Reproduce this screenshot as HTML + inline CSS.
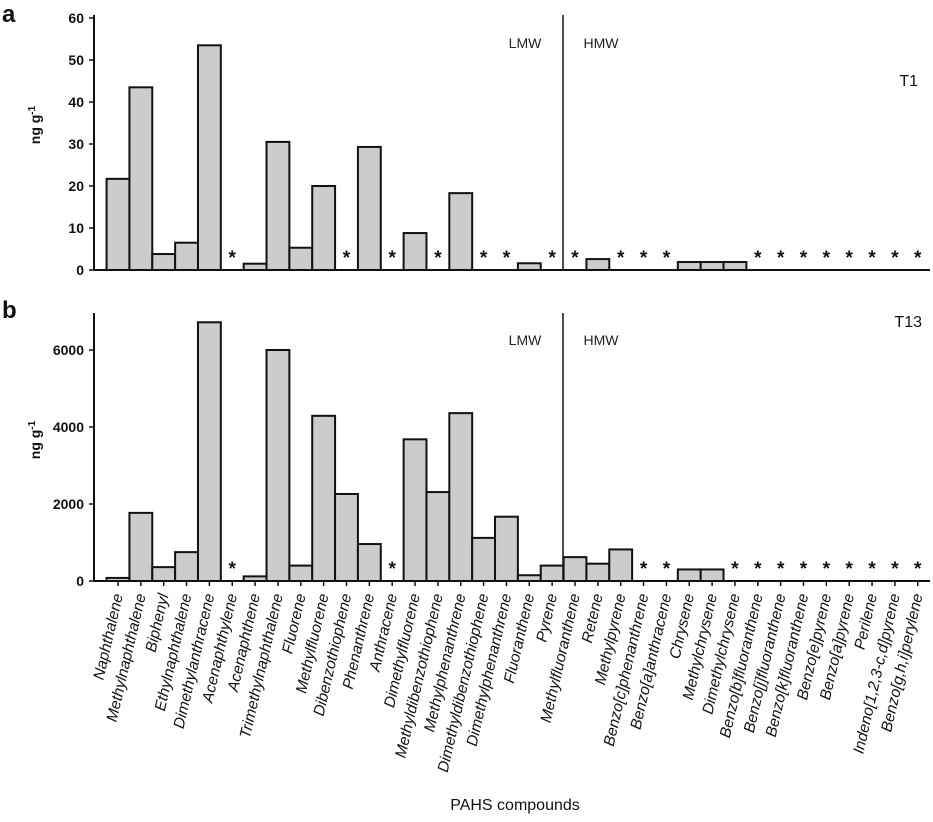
<!DOCTYPE html>
<html><head><meta charset="utf-8"><style>
body{margin:0;background:#fff;}
svg{display:block;font-family:"Liberation Sans",Arial,sans-serif;}
</style></head><body>
<svg id="chart" width="933" height="822" viewBox="0 0 933 822">
<g id="root"></g>
</svg>
<script>
const categories=["Naphthalene","Methylnaphthalene","Biphenyl","Ethylnaphthalene","Dimethylanthracene","Acenaphthylene","Acenaphthene","Trimethylnaphthalene","Fluorene","Methylfluorene","Dibenzothiophene","Phenanthrene","Anthracene","Dimethylfluorene","Methyldibenzothiophene","Methylphenanthrene","Dimethyldibenzothiophene","Dimethylphenanthrene","Fluoranthene","Pyrene","Methylfluoranthene","Retene","Methylpyrene","Benzo[c]phenanthrene","Benzo[a]anthracene","Chrysene","Methylchrysene","Dimethylchrysene","Benzo[b]fluoranthene","Benzo[j]fluoranthene","Benzo[k]fluoranthene","Benzo[e]pyrene","Benzo[a]pyrene","Perilene","Indeno[1,2,3-c,d]pyrene","Benzo[g,h,i]perylene"];
// null = not detected (*)
const valuesT1=[21.7,43.5,3.8,6.5,53.5,null,1.5,30.5,5.3,20,null,29.3,null,8.8,null,18.3,null,null,1.6,null,null,2.6,null,null,null,1.9,1.9,1.9,null,null,null,null,null,null,null,null];
const valuesT13=[80,1770,360,750,6720,null,120,6000,400,4290,2260,960,null,3680,2310,4360,1120,1670,150,400,620,450,820,null,null,300,300,null,null,null,null,null,null,null,null,null];
const ticksT1=[0,10,20,30,40,50,60];
const ticksT13=[0,2000,4000,6000];

const NS="http://www.w3.org/2000/svg";
const root=document.getElementById('root');
function mk(tag,attrs,parent){const e=document.createElementNS(NS,tag);for(const k in attrs)e.setAttribute(k,attrs[k]);(parent||root).appendChild(e);return e;}
const slot=22.85, x0=118;
function xc(i){return x0+slot*i;}

function panel(cfg){
  const g=mk('g',{});
  
  
  const y=v=>cfg.y0-(v-0)*(cfg.y0-cfg.yTop)/cfg.vTop;
  cfg.values.forEach((v,i)=>{
    if(v===null){
      const s=mk('text',{x:xc(i),y:cfg.y0-6,'text-anchor':'middle','font-size':19,'font-weight':'bold',fill:'#111'},g);
      s.textContent='*';
      
      
    } else {
      const r=mk('rect',{x:xc(i)-slot/2,y:y(v),width:slot,height:cfg.y0-y(v),fill:'#cccccc',stroke:'#111','stroke-width':2},g);
      
      
    }
  });
  const ya=mk('line',{x1:94,y1:cfg.axTop,x2:94,y2:cfg.y0,stroke:'#111','stroke-width':2},g);
  
  
  const xa=mk('line',{x1:94,y1:cfg.y0,x2:930,y2:cfg.y0,stroke:'#111','stroke-width':2},g);
  
  
  cfg.ticks.forEach(t=>{
    mk('line',{x1:89,y1:y(t),x2:94,y2:y(t),stroke:'#111','stroke-width':1.5},g);
    const tl=mk('text',{x:84,y:y(t)+5,'text-anchor':'end','font-size':14,'font-weight':'bold',fill:'#111'},g);
    tl.textContent=t;
    
    
  });
  if(cfg.xticks){categories.forEach((c,i)=>mk('line',{x1:xc(i),y1:cfg.y0,x2:xc(i),y2:cfg.y0+5,stroke:'#111','stroke-width':1.5},g));}
  const dv=mk('line',{x1:563,y1:cfg.axTop,x2:563,y2:cfg.y0,stroke:'#111','stroke-width':1.5},g);
  
  
  const l=mk('text',{x:525,y:cfg.labY,'text-anchor':'middle','font-size':14,fill:'#222'},g);l.textContent='LMW';
  
  const h=mk('text',{x:601,y:cfg.labY,'text-anchor':'middle','font-size':14,fill:'#222'},g);h.textContent='HMW';
  
  const tt=mk('text',{x:cfg.tX,y:cfg.tY,'text-anchor':'end','font-size':16,fill:'#111'},g);tt.textContent=cfg.title;
  
  const pl=mk('text',{x:2,y:cfg.pY,'font-size':24,'font-weight':'bold',fill:'#111'},g);pl.textContent=cfg.letter;
  
  const yt=mk('text',{x:0,y:0,transform:`translate(40,${cfg.ytY}) rotate(-90)`,'text-anchor':'middle','font-size':14,'font-weight':'bold',fill:'#111'},g);
  yt.innerHTML='ng g<tspan dy="-5" font-size="10">-1</tspan>';
  
}
panel({name:'panel-a-t1',values:valuesT1,ticks:ticksT1,vTop:60,yTop:18,y0:270,axTop:15,labY:48,title:'T1',tX:918,tY:86,letter:'a',pY:22,ytY:125,xticks:false});
panel({name:'panel-b-t13',values:valuesT13,ticks:ticksT13,vTop:6000,yTop:350,y0:581,axTop:313,labY:345,title:'T13',tX:922,tY:327,letter:'b',pY:318,ytY:440,xticks:true});

categories.forEach((c,i)=>{
  const t=mk('text',{x:0,y:0,transform:`translate(${xc(i)+5},${595}) rotate(-77)`,'text-anchor':'end','font-size':15.5,'font-style':'italic',fill:'#111'});
  t.textContent=c;
  
  
});
const xt=mk('text',{x:515,y:810,'text-anchor':'middle','font-size':16,fill:'#111'});
xt.textContent='PAHS compounds';


</script>
</body></html>
